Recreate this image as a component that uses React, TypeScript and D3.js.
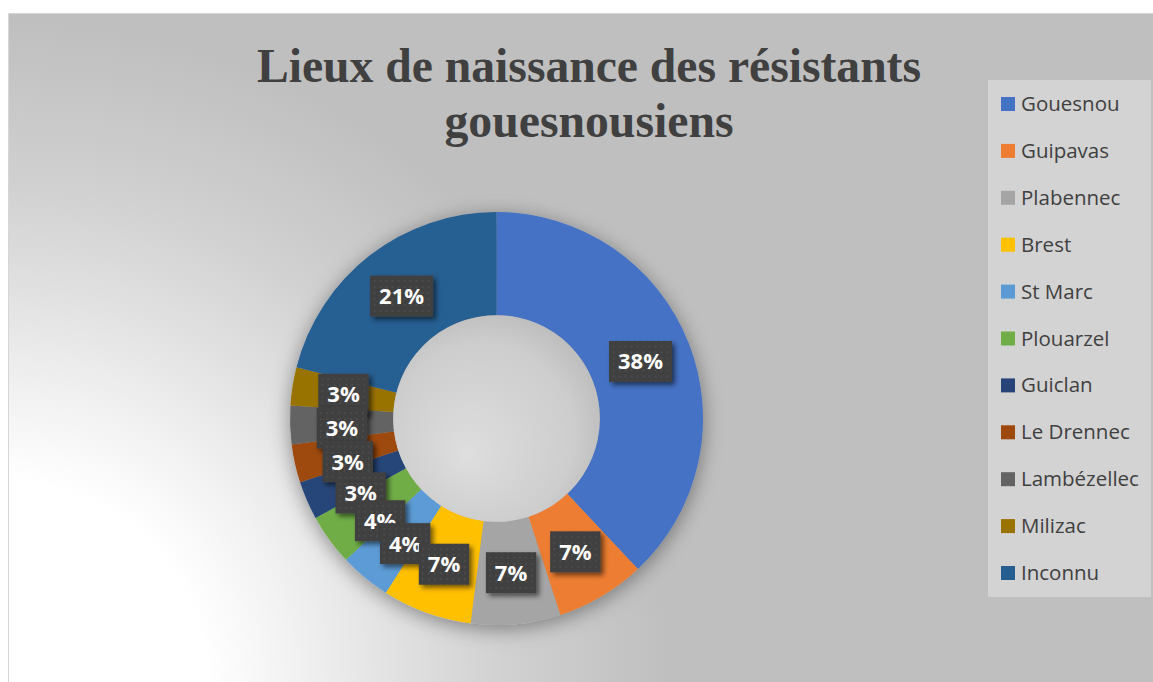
import React from "react";
import * as d3 from "d3";

const categories = ["Gouesnou", "Guipavas", "Plabennec", "Brest", "St Marc", "Plouarzel", "Guiclan", "Le Drennec", "Lambézellec", "Milizac", "Inconnu"];
const values = [38, 7, 7, 7, 4, 4, 3, 3, 3, 3, 21];
const colors = ["#4472C4", "#ED7D31", "#A5A5A5", "#FFC000", "#5B9BD5", "#70AD47", "#264478", "#9E480E", "#636363", "#997300", "#255E91"];
const titleLines = ["Lieux de naissance des résistants", "gouesnousiens"];

const W = 1153;
const H = 682;
const cx = 496.5;
const cy = 418.5;
const outerR = 206.5;
const innerR = 103.3;

let measureCtx: CanvasRenderingContext2D | null = null;
function measure(text: string, font: string): number {
  if (!measureCtx) {
    const c = document.createElement("canvas");
    measureCtx = c.getContext("2d");
  }
  if (!measureCtx) return text.length * 12;
  measureCtx.font = font;
  return measureCtx.measureText(text).width;
}

export default function App() {
  const total = d3.sum(values);
  const pie = d3.pie<number>().sort(null).value((d) => d);
  const arcs = pie(values);
  const arcGen = d3.arc<d3.PieArcDatum<number>>().innerRadius(innerR).outerRadius(outerR);
  const midR = (innerR + outerR) / 2;

  // label angles: centroid angle, with a minimal spacing so small-slice labels spread (like Excel best fit)
  const minGap = 34 / midR;
  const angles = arcs.map((a) => (a.startAngle + a.endAngle) / 2);
  for (let i = angles.length - 3; i >= 0; i--) {
    if (angles[i + 1] - angles[i] < minGap) angles[i] = angles[i + 1] - minGap;
  }

  const labelFont = "700 22px 'Open Sans'";
  const legendY = d3.scalePoint<string>().domain(categories).range([104, 573]);
  const labelOrder = arcs.map((a, i) => i).reverse();

  return (
    <svg width={W} height={H} style={{ position: "absolute", left: 0, top: 0, display: "block" }}>
      <defs>
        <radialGradient id="bg" gradientUnits="userSpaceOnUse" cx={8} cy={682} r={660}>
          <stop offset="0" stopColor="#ffffff" />
          <stop offset="0.3" stopColor="#ffffff" />
          <stop offset="0.45" stopColor="#f0f0f0" />
          <stop offset="0.6" stopColor="#e0e0e0" />
          <stop offset="0.76" stopColor="#d0d0d0" />
          <stop offset="1" stopColor="#bfbfbf" />
        </radialGradient>
        <radialGradient id="hole" cx="0.45" cy="0.55" r="0.6" fx="0.35" fy="0.68">
          <stop offset="0" stopColor="#dedede" />
          <stop offset="0.75" stopColor="#cdcdcd" />
          <stop offset="1" stopColor="#bbbbbb" />
        </radialGradient>
        <filter id="ringShadow" x="-30%" y="-30%" width="160%" height="160%">
          <feDropShadow dx="0" dy="4" stdDeviation="10" floodColor="#000" floodOpacity="0.4" />
        </filter>
        <filter id="boxShadow" x="-30%" y="-30%" width="170%" height="170%">
          <feDropShadow dx="3" dy="3" stdDeviation="2.5" floodColor="#000" floodOpacity="0.55" />
        </filter>
        <pattern id="dots" width="6" height="6" patternUnits="userSpaceOnUse">
          <rect width="6" height="6" fill="#3f3f3f" />
          <circle cx="3" cy="3" r="1.1" fill="#4e4e4e" />
        </pattern>
      </defs>

      <rect x={0} y={0} width={W} height={H} fill="#ffffff" />
      <rect x={8.5} y={13.5} width={W} height={H} fill="url(#bg)" stroke="#d6d6d6" strokeWidth={1} />

      {titleLines.map((t, i) => (
        <text
          key={i}
          x={589}
          y={82 + i * 55}
          textAnchor="middle"
          fontFamily="'Liberation Serif', 'Times New Roman', serif"
          fontWeight={700}
          fontSize={48}
          fill="#404040"
          textLength={i === 0 ? 664 : 289}
          lengthAdjust="spacingAndGlyphs"
        >
          {t}
        </text>
      ))}

      <g transform={`translate(${cx},${cy})`}>
        <g filter="url(#ringShadow)">
          {arcs.map((a, i) => (
            <path key={i} d={arcGen(a) || ""} fill={colors[i]} />
          ))}
        </g>
        <circle r={innerR} fill="url(#hole)" />

        {labelOrder.map((i) => {
          const ang = angles[i];
          const lx = midR * Math.sin(ang);
          const ly = -midR * Math.cos(ang);
          const txt = `${Math.round((values[i] / total) * 100)}%`;
          const tw = measure(txt, labelFont);
          const bw = tw + 18;
          const bh = 41;
          return (
            <g key={i} transform={`translate(${lx},${ly})`}>
              <rect x={-bw / 2} y={-bh / 2} width={bw} height={bh} fill="url(#dots)" filter="url(#boxShadow)" />
              <text
                x={0}
                y={8}
                textAnchor="middle"
                fontFamily="'Open Sans', sans-serif"
                fontWeight={700}
                fontSize={22}
                fill="#ffffff"
              >
                {txt}
              </text>
            </g>
          );
        })}
      </g>

      <rect x={988} y={80} width={163} height={517} fill="#d3d3d3" />
      {categories.map((c, i) => {
        const y = legendY(c) as number;
        return (
          <g key={c}>
            <rect x={1001} y={y - 7} width={14} height={14} fill={colors[i]} />
            <text x={1021} y={y + 7} fontFamily="'Open Sans', sans-serif" fontSize={20.5} fill="#404040">
              {c}
            </text>
          </g>
        );
      })}
    </svg>
  );
}
